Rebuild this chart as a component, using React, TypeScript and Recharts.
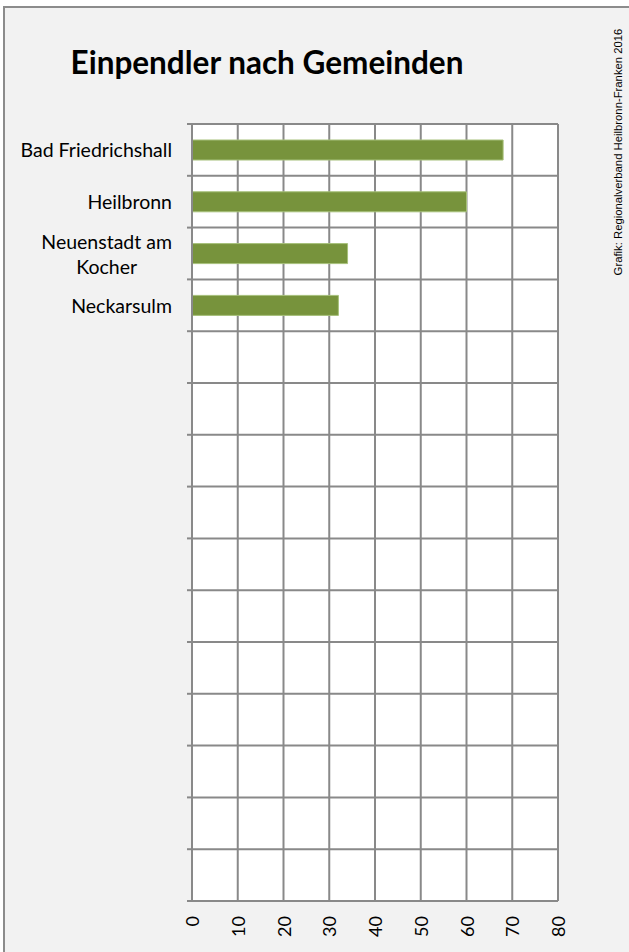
import React from 'react';
import { BarChart, Bar, XAxis, YAxis, CartesianGrid } from 'recharts';

// ---- data ----
const categories = ['Bad Friedrichshall', 'Heilbronn', 'Neuenstadt am Kocher', 'Neckarsulm'];
const values = [68, 60, 34, 32];
const emptyRowCount = 11;
const xTicks = [0, 10, 20, 30, 40, 50, 60, 70, 80];
const rowTicks = [0, 1, 2, 3, 4, 5, 6, 7, 8, 9, 10, 11, 12, 13, 14, 15];
const title = 'Einpendler nach Gemeinden';
const credit = 'Grafik: Regionalverband Heilbronn-Franken 2016';

const data = [
  ...categories.map((name, i) => ({ name, value: values[i] })),
  ...Array.from({ length: emptyRowCount }, (_, i) => ({ name: `__empty${i}`, value: null })),
];

const GRID = '#898989';
const LABEL_FONT_SIZE = 19.5;
const LABEL_FONT = `${LABEL_FONT_SIZE}px Lato`;
const LINE_HEIGHT = 25;
const MAX_LABEL_WIDTH = 170;

let measureCtx: CanvasRenderingContext2D | null = null;
function measure(text: string): number {
  if (!measureCtx) measureCtx = document.createElement('canvas').getContext('2d');
  if (!measureCtx) return text.length * LABEL_FONT_SIZE * 0.5;
  measureCtx.font = LABEL_FONT;
  return measureCtx.measureText(text).width;
}

function wrap(text: string): string[] {
  const words = text.split(' ');
  const lines: string[] = [];
  let cur = '';
  for (const w of words) {
    const cand = cur ? cur + ' ' + w : w;
    if (cur && measure(cand) > MAX_LABEL_WIDTH) {
      lines.push(cur);
      cur = w;
    } else {
      cur = cand;
    }
  }
  if (cur) lines.push(cur);
  return lines;
}

const EmptyTick = () => <g />;

const CategoryTick = (props: any) => {
  const { x, y, payload } = props;
  const value: string = payload?.value ?? '';
  if (!value || value.startsWith('__empty')) return <g />;
  const lines = wrap(value);
  const widths = lines.map(measure);
  const blockW = Math.max(...widths);
  const cx = x - blockW / 2;
  const startY = y - ((lines.length - 1) * LINE_HEIGHT) / 2;
  return (
    <g>
      {lines.map((ln, i) => (
        <text
          key={i}
          x={lines.length > 1 ? cx : x}
          y={startY + i * LINE_HEIGHT}
          textAnchor={lines.length > 1 ? 'middle' : 'end'}
          dominantBaseline="central"
          fontFamily="Lato"
          fontSize={LABEL_FONT_SIZE}
          fill="#000"
        >
          {ln}
        </text>
      ))}
    </g>
  );
};

const ValueTick = (props: any) => {
  const { x, y, payload } = props;
  return (
    <text
      x={x}
      y={y}
      transform={`rotate(-90 ${x} ${y})`}
      textAnchor="end"
      dominantBaseline="central"
      fontFamily="Lato"
      fontSize={18}
      fill="#000"
    >
      {payload.value}
    </text>
  );
};

const rowAxisKey = () => 0;

export default function App() {
  return (
    <div
      style={{
        position: 'fixed',
        left: 0,
        top: 0,
        width: 629,
        height: 952,
        overflow: 'hidden',
        background: '#ffffff',
      }}
    >
      <div
        style={{
          position: 'absolute',
          left: 3,
          top: 6,
          width: 660,
          height: 980,
          boxSizing: 'border-box',
          border: '2px solid #8c8c8c',
          background: '#f2f2f2',
        }}
      />
      <div
        style={{
          position: 'absolute',
          left: 0,
          top: 37,
          width: 534,
          textAlign: 'center',
          fontFamily: 'Lato',
          fontWeight: 700,
          fontSize: 31.5,
          lineHeight: '50px',
          color: '#000',
        }}
      >
        {title}
      </div>
      <div
        style={{
          position: 'absolute',
          left: 618,
          top: 152,
          transform: 'translate(-50%, -50%) rotate(-90deg)',
          whiteSpace: 'nowrap',
          fontFamily: '"Liberation Sans", Arial, sans-serif',
          fontSize: 11.3,
          color: '#000',
        }}
      >
        {credit}
      </div>
      <div style={{ position: 'absolute', left: 0, top: 0 }}>
        <BarChart
          width={629}
          height={952}
          data={data}
          layout="vertical"
          margin={{ top: 124, right: 71, bottom: 11, left: 4 }}
        >
          <CartesianGrid
            yAxisId="a_rows"
            stroke={GRID}
            strokeWidth={2}
            fill="#ffffff"
            fillOpacity={1}
          />
          <XAxis
            type="number"
            domain={[0, 80]}
            ticks={xTicks}
            interval={0}
            axisLine={false}
            tickLine={false}
            tickSize={0}
            tickMargin={15}
            height={40}
            tick={<ValueTick />}
          />
          <YAxis
            yAxisId="b_cat"
            type="category"
            dataKey="name"
            width={180}
            interval={0}
            axisLine={false}
            tickLine={false}
            tickSize={0}
            tickMargin={12}
            tick={<CategoryTick />}
          />
          <YAxis
            yAxisId="a_rows"
            type="number"
            dataKey={rowAxisKey}
            domain={[0, 15]}
            allowDataOverflow={true}
            ticks={rowTicks}
            interval={0}
            width={8}
            tick={<EmptyTick />}
            tickSize={5}
            axisLine={{ stroke: GRID, strokeWidth: 2 }}
            tickLine={{ stroke: GRID, strokeWidth: 2 }}
          />
          <Bar
            yAxisId="b_cat"
            dataKey="value"
            barSize={20}
            fill="#77933c"
            stroke="#a6c07a"
            strokeWidth={1}
            isAnimationActive={false}
          />
        </BarChart>
      </div>
    </div>
  );
}
